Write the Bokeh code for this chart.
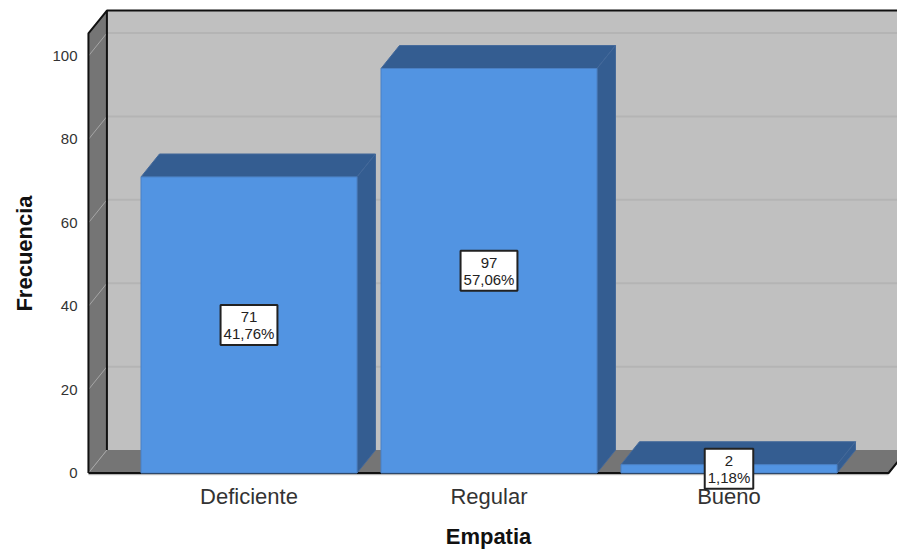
from bokeh.embed import file_html
from bokeh.resources import INLINE
from bokeh.plotting import figure
from bokeh.models import FixedTicker, Label, Range1d

# Survey results for the "Empatia" scale
categorias = ["Deficiente", "Regular", "Bueno"]
frecuencias = [71, 97, 2]
porcentajes = ["41,76%", "57,06%", "1,18%"]
y_ticks = [0, 20, 40, 60, 80, 100]
y_top = 105.4

# 3D-style extrusion and bar geometry, in data units
DX, DY = 0.077, 5.5
BAR_HALF = 0.45
X_LEFT, X_RIGHT = 0.331, 3.665

WALL, SIDE = "#c0c0c0", "#757575"
FRONT, SHADE = "#5294e2", "#345d91"
GRID_BACK, GRID_SIDE = "#b4b4b4", "#a6a6a6"
INK = "#111111"
FONT = "Liberation Sans"

# The frame reaches past the floor so both axis titles centre where they belong
FRAME_L, FRAME_H = 79, 506
p = figure(width=897, height=552, output_backend="svg", toolbar_location=None,
           x_range=Range1d(1 + (FRAME_L - 248.5) / 240, 1 + (897 - 248.5) / 240),
           y_range=Range1d((472.5 - FRAME_H) / 4.17, 472.5 / 4.17),
           min_border_left=FRAME_L, min_border_right=0, min_border_top=0, min_border_bottom=552 - FRAME_H,
           background_fill_color="white", border_fill_color="white", outline_line_color=None)
p.xgrid.visible = False
p.ygrid.visible = False

xl, xr = X_LEFT, X_RIGHT

# Back wall, left wall and floor
p.patch([xl + DX, xr + DX + 1, xr + DX + 1, xl + DX], [DY, DY, y_top + DY, y_top + DY],
        color=WALL, line_color=None)
p.patch([xl, xl + DX, xl + DX, xl], [0, DY, y_top + DY, y_top], color=SIDE, line_color=None)
p.patch([xl, xr, xr + DX, xr + DX + 1, xl + DX], [0, 0, DY, DY, DY], color=SIDE, line_color=None)

# Gridlines run along the back wall and fold down the left wall
for t in y_ticks[1:]:
    p.line([xl + DX, xr + DX + 1], [t + DY, t + DY], line_color=GRID_BACK, line_width=2)
for t in y_ticks:
    p.line([xl, xl + DX], [t, t + DY], line_color=GRID_SIDE, line_width=1)

# Box outline
p.line([xl, xl, xl + DX, xr + DX + 1], [0, y_top, y_top + DY, y_top + DY], line_color=INK, line_width=2)
p.line([xl + DX, xl + DX], [DY, y_top + DY], line_color=INK, line_width=2)
p.line([xl, xr, xr + DX], [0, 0, DY], line_color=INK, line_width=2)

# Extruded bars
for i, v in enumerate(frecuencias):
    c = i + 1
    a, b = c - BAR_HALF, c + BAR_HALF
    p.patch([a, b, b + DX, a + DX], [v, v, v + DY, v + DY],
            color=SHADE, line_color="#44699a", line_width=1)
    p.patch([b, b + DX, b + DX, b], [0, DY, v + DY, v],
            color=SHADE, line_color="#44699a", line_width=1)
    p.patch([a, b, b, a], [0, 0, v, v], color=FRONT, line_color="#4a80c4", line_width=1)

# Pale rule under the floor edge
p.line([xl, xr], [-0.4, -0.4], line_color="#a8a8a8", line_width=1)

# Axes
p.yaxis.ticker = FixedTicker(ticks=y_ticks)
p.yaxis.axis_line_color = None
p.yaxis.major_tick_line_color = None
p.yaxis.minor_tick_line_color = None
p.yaxis.major_label_standoff = -4
p.yaxis.major_label_text_font = FONT
p.yaxis.major_label_text_font_size = "15px"
p.yaxis.major_label_text_color = "#333333"
p.yaxis.axis_label = "Frecuencia"
p.yaxis.axis_label_standoff = 12
p.yaxis.axis_label_text_font = FONT
p.yaxis.axis_label_text_font_style = "bold"
p.yaxis.axis_label_text_font_size = "22px"
p.yaxis.axis_label_text_color = "#111111"

p.xaxis.ticker = FixedTicker(ticks=[1, 2, 3])
p.xaxis.major_label_overrides = {i + 1: c for i, c in enumerate(categorias)}
p.xaxis.axis_line_color = None
p.xaxis.major_tick_line_color = None
p.xaxis.minor_tick_line_color = None
p.xaxis.major_label_standoff = -29
p.xaxis.major_label_text_font = FONT
p.xaxis.major_label_text_font_size = "22px"
p.xaxis.major_label_text_color = "#333333"
p.xaxis.axis_label = "Empatia"
p.xaxis.axis_label_standoff = 12
p.xaxis.axis_label_text_font = FONT
p.xaxis.axis_label_text_font_style = "bold"
p.xaxis.axis_label_text_font_size = "22px"
p.xaxis.axis_label_text_color = "#111111"

# Value boxes centred on each bar
for i, (v, pct) in enumerate(zip(frecuencias, porcentajes)):
    p.add_layout(Label(x=i + 1, y=v / 2, text=f"{v}\n{pct}", text_font=FONT, text_font_size="15px",
                       text_color="#222222", text_align="center", text_baseline="middle",
                       text_line_height=1.0, background_fill_color="white",
                       border_line_color="#222222", border_line_width=2, padding=3))

open("out.html", "w").write(file_html(p, INLINE))
